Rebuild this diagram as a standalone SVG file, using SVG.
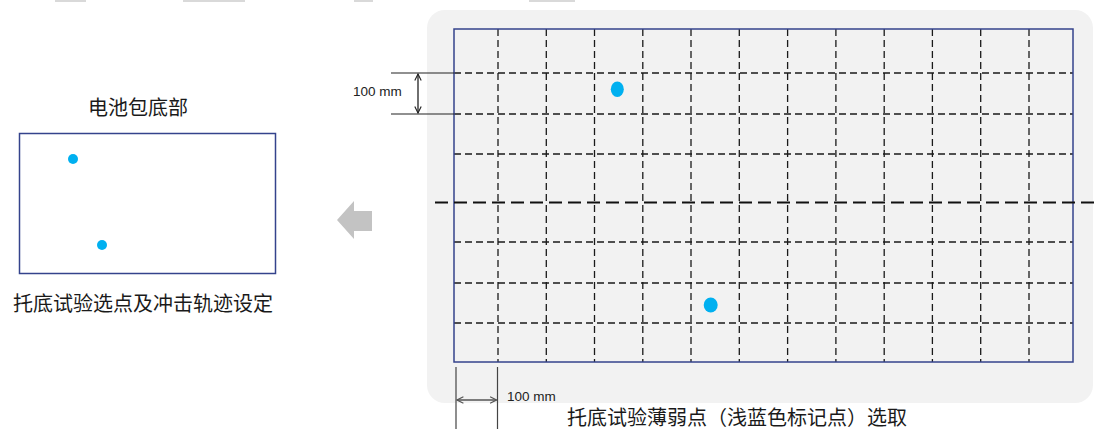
<svg xmlns="http://www.w3.org/2000/svg" width="1097" height="429" viewBox="0 0 1097 429">
  <style>
    .cjk { font-family: "Noto Sans CJK SC", "Noto Sans", sans-serif; font-size: 20px; fill: #1a1a1a; }
    .dim { font-family: "Liberation Sans", Arial, sans-serif; font-size: 13.5px; fill: #222; }
    .grid { stroke: #1a1a1a; stroke-width: 1.3; stroke-dasharray: 7 4; fill: none; }
    .frame { fill: none; stroke: #34438C; stroke-width: 1.5; }
    .dot { fill: #00B0F0; }
  </style>
  <defs>
    <marker id="chev" viewBox="0 0 10 10" refX="9" refY="5" markerWidth="8" markerHeight="8" orient="auto-start-reverse" markerUnits="userSpaceOnUse">
      <path d="M1,1 L9,5 L1,9" fill="none" stroke="#222" stroke-width="1.4"/>
    </marker>
    <marker id="chevg" viewBox="0 0 10 10" refX="9" refY="5" markerWidth="8" markerHeight="8" orient="auto-start-reverse" markerUnits="userSpaceOnUse">
      <path d="M1,1 L9,5 L1,9" fill="none" stroke="#555" stroke-width="1.4"/>
    </marker>
  </defs>
  <rect width="1097" height="429" fill="#ffffff"/>
  <!-- top fragments -->
  <g fill="#D9D9D9">
    <rect x="55" y="0" width="31" height="2"/>
    <rect x="183" y="0" width="62" height="2"/>
    <rect x="354" y="0" width="19" height="2"/>
    <rect x="529" y="0" width="46" height="2"/>
  </g>

  <!-- left node -->
  <g id="battery-bottom">
    <text class="cjk" x="88" y="115">电池包底部</text>
    <rect class="frame" x="19.5" y="133.5" width="256" height="140" fill="#fff"/>
    <circle class="dot" cx="73" cy="159" r="5"/>
    <circle class="dot" cx="102" cy="245" r="5"/>
    <text class="cjk" x="13" y="311">托底试验选点及冲击轨迹设定</text>
  </g>

  <!-- arrow -->
  <g id="arrow">
    <polygon points="337,220 354,201 354,211 372,211 372,231 354,231 354,239" fill="#C3C3C3"/>
  </g>

  <!-- right node -->
  <g id="weak-point-panel">
    <rect x="427" y="10" width="666" height="393" rx="18" ry="18" fill="#F2F2F2"/>
    <rect x="454" y="29" width="619" height="333" fill="#F2F2F2"/>
    <g class="grid">
      <line x1="454" y1="73" x2="1073" y2="73"/>
      <line x1="454" y1="114" x2="1073" y2="114"/>
      <line x1="454" y1="154" x2="1073" y2="154"/>
      <line x1="454" y1="242" x2="1073" y2="242"/>
      <line x1="454" y1="283" x2="1073" y2="283"/>
      <line x1="454" y1="323" x2="1073" y2="323"/>
      <line x1="498" y1="29" x2="498" y2="362"/>
      <line x1="546.3" y1="29" x2="546.3" y2="362"/>
      <line x1="594.5" y1="29" x2="594.5" y2="362"/>
      <line x1="642.8" y1="29" x2="642.8" y2="362"/>
      <line x1="691" y1="29" x2="691" y2="362"/>
      <line x1="739.3" y1="29" x2="739.3" y2="362"/>
      <line x1="787.6" y1="29" x2="787.6" y2="362"/>
      <line x1="835.9" y1="29" x2="835.9" y2="362"/>
      <line x1="884.2" y1="29" x2="884.2" y2="362"/>
      <line x1="932.4" y1="29" x2="932.4" y2="362"/>
      <line x1="980.7" y1="29" x2="980.7" y2="362"/>
      <line x1="1029" y1="29" x2="1029" y2="362"/>
    </g>
    <rect class="frame" x="454" y="29" width="619" height="333"/>
    <line x1="435" y1="202.5" x2="1097" y2="202.5" stroke="#111" stroke-width="2.2" stroke-dasharray="13 6"/>
    <ellipse class="dot" cx="617.3" cy="89.3" rx="6.5" ry="7.8"/>
    <ellipse class="dot" cx="710.7" cy="305" rx="7" ry="7.5"/>
    <text class="cjk" x="567" y="425">托底试验薄弱点（浅蓝色标记点）选取</text>
  </g>

  <!-- dimension connectors -->
  <g id="dimensions">
    <line x1="391" y1="73" x2="454" y2="73" stroke="#222" stroke-width="1.1"/>
    <line x1="391" y1="114" x2="454" y2="114" stroke="#222" stroke-width="1.1"/>
    <line x1="418" y1="74" x2="418" y2="113" stroke="#222" stroke-width="1.3" marker-start="url(#chev)" marker-end="url(#chev)"/>
    <text class="dim" x="353" y="96">100 mm</text>
    <line x1="456" y1="367" x2="456" y2="429" stroke="#444" stroke-width="1.2"/>
    <line x1="497.5" y1="367" x2="497.5" y2="429" stroke="#444" stroke-width="1.2"/>
    <line x1="457" y1="400" x2="496.5" y2="400" stroke="#555" stroke-width="1.3" marker-start="url(#chevg)" marker-end="url(#chevg)"/>
    <text class="dim" x="507" y="401">100 mm</text>
  </g>
</svg>
